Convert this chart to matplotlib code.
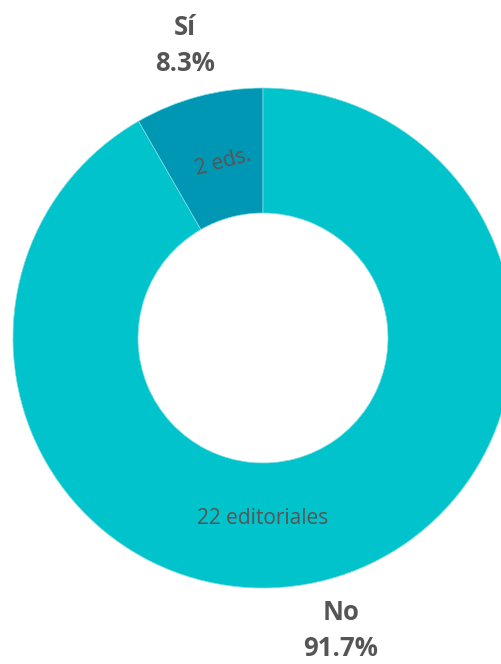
import matplotlib
matplotlib.use("Agg")
import matplotlib.pyplot as plt
import matplotlib.transforms as mtransforms
import numpy as np

categories = ["Sí", "No"]
percentages = [8.3, 91.7]
counts_labels = ["2 eds.", "22 editoriales"]
colors = ["#0097B4", "#00C3CB"]

plt.rcParams['font.family'] = ['Open Sans', 'DejaVu Sans']

W, H = 502, 664
fig = plt.figure(figsize=(W/100, H/100), dpi=100)
cx, cy = 263, 664 - 338
R = 250
lim = 1.4
S = 2 * lim * R
ax = fig.add_axes([(cx - S/2)/W, (cy - S/2)/H, S/W, S/H])

wedges, _ = ax.pie(percentages, colors=colors, startangle=90, counterclock=True,
                   radius=1.0, wedgeprops=dict(width=0.5, edgecolor='#7fdde2', linewidth=0.5))
ax.set_xlim(-lim, lim)
ax.set_ylim(-lim, lim)
ax.set_aspect('equal')
ax.axis('off')

for i, (w, cat, pct, lab) in enumerate(zip(wedges, categories, percentages, counts_labels)):
    ang = (w.theta1 + w.theta2) / 2
    a = np.deg2rad(ang)
    if i == 0:
        ia = np.deg2rad(ang - 2)
        rot = ang - 90
    else:
        ia = np.deg2rad(270)
        rot = 0
    r_in = 0.72
    ax.text(r_in*np.cos(ia), r_in*np.sin(ia), lab, ha='center', va='center',
            fontsize=15, color='#555555', rotation=rot, rotation_mode='anchor')
    r_out = 1.21
    x, y = r_out*np.cos(a), r_out*np.sin(a)
    up = mtransforms.offset_copy(ax.transData, fig=fig, x=0, y=18, units='dots')
    dn = mtransforms.offset_copy(ax.transData, fig=fig, x=0, y=-18, units='dots')
    ax.text(x, y, cat, ha='center', va='center', transform=up,
            fontsize=18.5, fontweight='bold', color='#555555')
    ax.text(x, y, f"{pct:.1f}%", ha='center', va='center', transform=dn,
            fontsize=18.5, fontweight='bold', color='#555555')

fig.savefig("out.png", dpi=100)
